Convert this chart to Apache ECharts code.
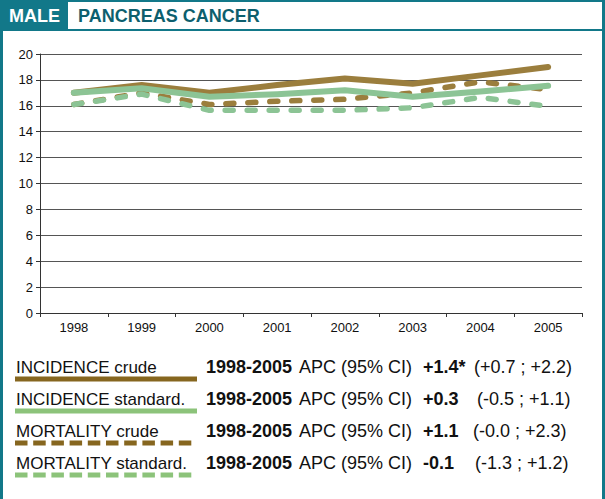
<!DOCTYPE html>
<html>
<head>
<meta charset="utf-8">
<script src="https://cdn.jsdelivr.net/npm/echarts@6/dist/echarts.min.js"></script>
<style>
html, body { margin: 0; padding: 0; background: #fff; }
#chart { width: 605px; height: 499px; }
</style>
</head>
<body>
<div id="chart"></div>
<script>
// years on the x axis
var years = ['1998', '1999', '2000', '2001', '2002', '2003', '2004', '2005'];
// rates
var incidenceCrude = [17.0, 17.6, 17.0, 17.6, 18.1, 17.7, 18.35, 19.0];
var incidenceStd = [17.0, 17.35, 16.7, 16.9, 17.2, 16.7, 17.1, 17.55];
var mortalityCrude = [16.1, 17.0, 16.1, 16.35, 16.5, 17.0, 17.85, 17.25];
var mortalityStd = [16.1, 16.9, 15.65, 15.65, 15.65, 15.85, 16.65, 15.95];
var yTicks = [0, 2, 4, 6, 8, 10, 12, 14, 16, 18, 20];

var legendNames = ['INCIDENCE crude', 'INCIDENCE standard.', 'MORTALITY crude', 'MORTALITY standard.'];
var apcValues = ['+1.4*', '+0.3', '+1.1', '-0.1'];
var apcCI = ['(+0.7 ; +2.2)', '(-0.5 ; +1.1)', '(-0.0 ; +2.3)', '(-1.3 ; +1.2)'];

var brown = '#9b7e3d', green = '#8cc495';
var brownKey = '#86661f', greenKey = '#8cc37a';
var teal = '#127889', darkTeal = '#0d5f6e';
var font = '"Liberation Sans", Arial, sans-serif';

var myChart = echarts.init(document.getElementById('chart'), null, {renderer: 'svg'});

//表头和边框
var graphics = [
    {type: 'rect', shape: {x: 0, y: 0, width: 605, height: 2}, style: {fill: teal}},
    {type: 'rect', shape: {x: 0, y: 0, width: 68, height: 31}, style: {fill: teal}},
    {type: 'rect', shape: {x: 68, y: 29, width: 537, height: 2}, style: {fill: teal}},
    {type: 'rect', shape: {x: 0, y: 0, width: 3, height: 499}, style: {fill: teal}},
    {type: 'rect', shape: {x: 602, y: 0, width: 3, height: 499}, style: {fill: teal}},
    {type: 'text', style: {x: 9, y: 16, text: 'MALE', fill: '#fff', font: 'bold 18px ' + font, verticalAlign: 'middle'}},
    {type: 'text', style: {x: 78, y: 16, text: 'PANCREAS CANCER', fill: darkTeal, font: 'bold 18px ' + font, verticalAlign: 'middle'}}
];

//图例
var keyColors = [brownKey, greenKey, brownKey, greenKey];
var keyDashed = [false, false, true, true];
var ciX = [474, 477, 473, 475];
legendNames.forEach(function (name, i) {
    var ty = 367 + i * 32;
    var ly = 379 + i * 32;
    function txt(x, s, bold, size) {
        graphics.push({type: 'text', style: {x: x, y: ty, text: s, fill: '#111',
            font: (bold ? 'bold ' : '') + size + 'px ' + font, verticalAlign: 'middle'}});
    }
    txt(16, name, false, 17);
    graphics.push({
        type: 'line',
        shape: {x1: 15, y1: ly, x2: 197, y2: ly},
        style: {stroke: keyColors[i], lineWidth: 5, lineDash: keyDashed[i] ? [12.5, 5.7] : null}
    });
    txt(206, '1998-2005', true, 18);
    txt(299, 'APC (95% CI)', false, 18);
    txt(423, apcValues[i], true, 18);
    txt(ciX[i], apcCI[i], false, 18);
});

function makeSeries(name, data, color, dashed, z) {
    return {
        name: name,
        type: 'line',
        data: data,
        symbol: 'none',
        z: z,
        lineStyle: {color: color, width: dashed ? 5.5 : 6, type: dashed ? [8, 14] : 'solid', cap: 'round', join: 'round'}
    };
}

var option = {
    animation: false,
    backgroundColor: '#fff',
    textStyle: {fontFamily: font},
    grid: {left: 40, right: 23, top: 54, bottom: 186},
    xAxis: {
        type: 'category',
        data: years,
        boundaryGap: true,
        axisLine: {lineStyle: {color: '#333', width: 1}},
        axisTick: {show: true, length: 4, lineStyle: {color: '#333'}},
        axisLabel: {color: '#111', fontSize: 13, margin: 8, fontFamily: font}
    },
    yAxis: {
        type: 'value',
        min: 0,
        max: 20,
        interval: 2,
        axisLine: {show: true, lineStyle: {color: '#333', width: 1}},
        axisTick: {show: true, length: 4, lineStyle: {color: '#333'}},
        axisLabel: {color: '#111', fontSize: 13, margin: 7, fontFamily: font,
            formatter: function (v) { return yTicks.indexOf(v) >= 0 ? String(v) : ''; }},
        splitLine: {lineStyle: {color: '#555', width: 1.2}}
    },
    series: [
        makeSeries(legendNames[0], incidenceCrude, brown, false, 2),
        makeSeries(legendNames[2], mortalityCrude, brown, true, 3),
        makeSeries(legendNames[1], incidenceStd, green, false, 4),
        makeSeries(legendNames[3], mortalityStd, green, true, 5)
    ],
    graphic: graphics
};
myChart.setOption(option);
</script>
</body>
</html>
